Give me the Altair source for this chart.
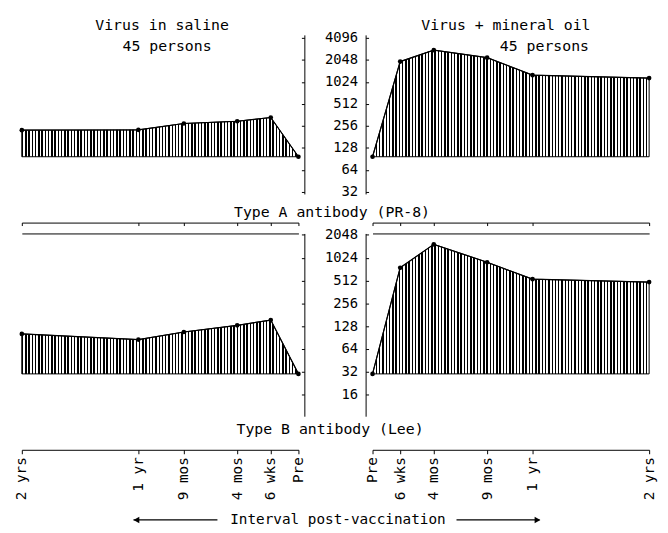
import altair as alt
import pandas as pd

# ---------------- data ----------------
months = [0, 1.5, 4, 9, 12, 24]
time_labels = ["Pre", "6 wks", "4 mos", "9 mos", "1 yr", "2 yrs"]
a_saline = [97, 333, 296, 276, 226, 224]
a_oil = [97, 1936, 2780, 2190, 1262, 1152]
b_saline = [30, 154, 131, 107, 85, 101]
b_oil = [30, 755, 1536, 892, 533, 488]
ticks_a = [32, 64, 128, 256, 512, 1024, 2048, 4096]
ticks_b = [16, 32, 64, 128, 256, 512, 1024, 2048]


def frame(vals):
    return pd.DataFrame({"months": months, "label": time_labels,
                         "titer": vals, "base": [vals[0]] * len(vals)})


MONO = "DejaVu Sans Mono"
W, H = 660, 525

# ---------------- scales ----------------
offs = [0, 28, 62, 116, 162, 280]
xL = alt.Scale(type="linear", domain=months, range=[294 - o for o in offs], nice=False, zero=False)
xR = alt.Scale(type="linear", domain=months, range=[369 + o for o in offs], nice=False, zero=False)
yA = alt.Scale(type="log", base=2, domain=[30.1, 4481], range=[185, 24], nice=False)
yB = alt.Scale(type="log", base=2, domain=[8.29, 2138], range=[410, 225], nice=False)


def hatch(n=85, frac=0.45):
    stops = []
    for i in range(n):
        a = round(i / n, 5)
        b = round((i + frac) / n, 5)
        c = round((i + 1) / n, 5)
        stops += [{"offset": a, "color": "black"}, {"offset": b, "color": "black"},
                  {"offset": b, "color": "white"}, {"offset": c, "color": "white"}]
    return {"gradient": "linear", "x1": 0, "y1": 0, "x2": 1, "y2": 0, "stops": stops}


label_expr = " : ".join(f"datum.value == {m} ? '{l}'" for m, l in zip(months, time_labels)) + " : ''"

xA_axis = alt.Axis(orient="bottom", offset=-(H - 214), values=months, labels=False,
                   tickSize=3, title=None, grid=False)
xB_axis = alt.Axis(orient="bottom", offset=-(H - 444), values=months, labelExpr=label_expr,
                   labelAngle=270, labelAlign="right", labelBaseline="middle", labelPadding=3,
                   tickSize=4, labelFlush=False, labelOverlap=False, title=None, grid=False,
                   labelFontSize=14.5)
xB_top = alt.Axis(orient="top", offset=-225, ticks=False, labels=False, title=None, grid=False)


def y_left(vals):
    return alt.Axis(orient="left", offset=-300, values=vals, labels=False, tickSize=3,
                    title=None, grid=False)


def y_right(vals):
    return alt.Axis(orient="right", offset=-(W - 362), values=vals, format="d",
                    labelAlign="right", labelPadding=-11, tickSize=3, labelOverlap=False,
                    labelFlush=False, title=None, grid=False)


def panel(df, xs, ys, x_axis=None, x_axis2=None, yl=None, yr=None):
    base = alt.Chart(df)
    area = base.mark_area(fill=hatch(), stroke="black", strokeWidth=1).encode(
        x=alt.X("months:Q", scale=xs, axis=x_axis),
        y=alt.Y("titer:Q", scale=ys, axis=None),
        y2="base:Q")
    line = base.mark_line(color="black", strokeWidth=1.2).encode(
        x=alt.X("months:Q", scale=xs, axis=x_axis2),
        y=alt.Y("titer:Q", scale=ys, axis=yl))
    pts = base.mark_point(filled=True, size=22, color="black", opacity=1).encode(
        x=alt.X("months:Q", scale=xs, axis=None),
        y=alt.Y("titer:Q", scale=ys, axis=yr))
    return [area, line, pts]


one = alt.Data(values=[{}])


def txt(s, x, y, size=15):
    return alt.Chart(one).mark_text(text=s, font=MONO, fontSize=size, color="black",
                                    align="center", baseline="middle").encode(
        x=alt.value(x), y=alt.value(y))


layers = []
layers += panel(frame(a_saline), xL, yA, x_axis=xA_axis, yl=y_left(ticks_a), yr=y_right(ticks_a))
layers += panel(frame(a_oil), xR, yA, x_axis=xA_axis)
layers += panel(frame(b_saline), xL, yB, x_axis=xB_axis, x_axis2=xB_top,
                yl=y_left(ticks_b), yr=y_right(ticks_b))
layers += panel(frame(b_oil), xR, yB, x_axis=xB_axis, x_axis2=xB_top)

layers += [
    txt("Virus in saline", 156, 14),
    txt("45 persons", 161, 35),
    txt("Virus + mineral oil", 504, 14),
    txt("45 persons", 543, 35),
    txt("Type A antibody (PR-8)", 328, 203),
    txt("Type B antibody (Lee)", 326, 423),
    txt("Interval post-vaccination", 334, 515, 14.5),
]

layers += [
    alt.Chart(one).mark_rule(color="black", strokeWidth=1.2).encode(
        x=alt.value(127), x2=alt.value(212), y=alt.value(515)),
    alt.Chart(one).mark_point(shape="triangle-left", filled=True, color="black",
                              size=45, opacity=1).encode(x=alt.value(130), y=alt.value(515)),
    alt.Chart(one).mark_rule(color="black", strokeWidth=1.2).encode(
        x=alt.value(454), x2=alt.value(538), y=alt.value(515)),
    alt.Chart(one).mark_point(shape="triangle-right", filled=True, color="black",
                              size=45, opacity=1).encode(x=alt.value(536), y=alt.value(515)),
]

chart = alt.layer(*layers).resolve_scale(
    x="independent", y="independent"
).resolve_axis(
    x="independent", y="independent"
).properties(
    width=W, height=H, padding=0,
    autosize=alt.AutoSizeParams(type="none"),
    background="white",
).configure_view(stroke=None).configure_axis(
    domainColor="black", tickColor="black", labelColor="black",
    labelFont=MONO, labelFontSize=14, domainWidth=1, tickWidth=1,
)

chart.save("out.html", embed_options={"renderer": "svg", "actions": False})
